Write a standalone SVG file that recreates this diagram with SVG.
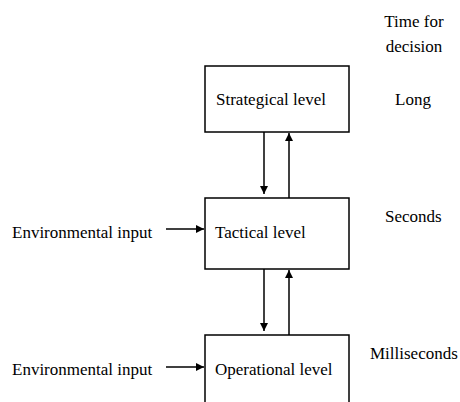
<svg xmlns="http://www.w3.org/2000/svg" width="460" height="402" viewBox="0 0 460 402">
<style>
.box{fill:#fff;stroke:#000;stroke-width:1.5}
.t{font-family:"Liberation Serif","Times New Roman",serif;font-size:17px;fill:#000}
.c{stroke:#000;stroke-width:1.5;fill:none}
</style>
<defs>
<marker id="ah" viewBox="0 0 10 10" refX="10" refY="5" markerWidth="8" markerHeight="8" markerUnits="userSpaceOnUse" orient="auto">
<path d="M0,0 L10,5 L0,10 z" fill="#000"/>
</marker>
</defs>
<rect width="460" height="402" fill="#fff"/>
<g id="labels">
<text class="t" x="414" y="27" text-anchor="middle">Time for</text>
<text class="t" x="414" y="52" text-anchor="middle">decision</text>
<text class="t" x="395" y="105">Long</text>
<text class="t" x="385" y="222">Seconds</text>
<text class="t" x="370" y="359">Milliseconds</text>
</g>
<g id="strategical">
<rect class="box" x="205" y="66" width="144" height="66"/>
<text class="t" x="216" y="105">Strategical level</text>
</g>
<g id="tactical">
<rect class="box" x="205" y="198" width="144" height="71"/>
<text class="t" x="215" y="238">Tactical level</text>
</g>
<g id="operational">
<rect class="box" x="205" y="335" width="144" height="80"/>
<text class="t" x="215" y="375">Operational level</text>
</g>
<g id="env1">
<text class="t" x="12" y="238">Environmental input</text>
</g>
<g id="env2">
<text class="t" x="12" y="375">Environmental input</text>
</g>
<g id="connectors">
<line class="c" x1="264" y1="132" x2="264" y2="194" marker-end="url(#ah)"/>
<line class="c" x1="289" y1="198" x2="289" y2="133" marker-end="url(#ah)"/>
<line class="c" x1="264" y1="269" x2="264" y2="331" marker-end="url(#ah)"/>
<line class="c" x1="289" y1="335" x2="289" y2="270" marker-end="url(#ah)"/>
<line class="c" x1="166" y1="229" x2="204" y2="229" marker-end="url(#ah)"/>
<line class="c" x1="166" y1="367" x2="204" y2="367" marker-end="url(#ah)"/>
</g>
</svg>
